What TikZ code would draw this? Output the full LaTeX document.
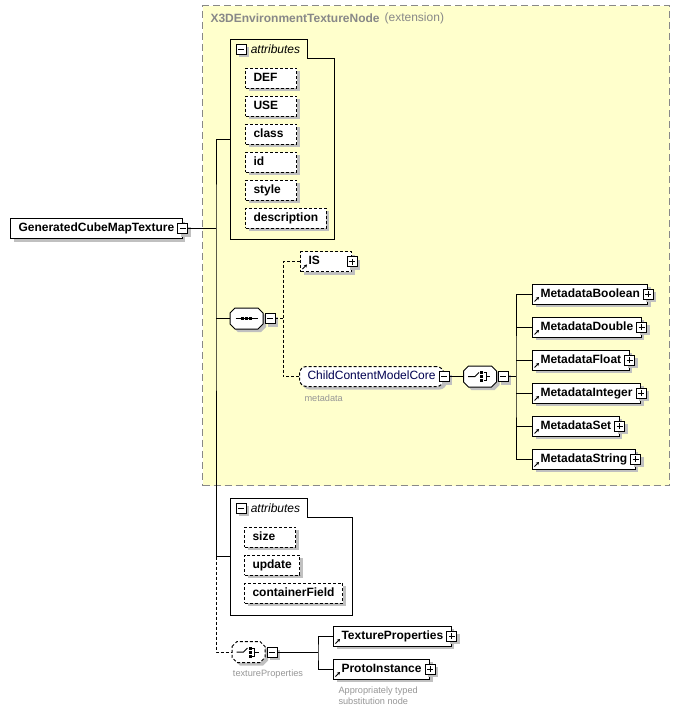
\documentclass[tikz,border=0pt]{standalone}
\usepackage{fontspec}
\setmainfont{Liberation Sans}
\usetikzlibrary{arrows.meta, positioning, shadows}

\definecolor{extfill}{RGB}{255,255,204}
\definecolor{extline}{RGB}{136,136,136}
\definecolor{shade}{RGB}{192,192,192}
\definecolor{notegray}{RGB}{150,150,150}
\definecolor{navy}{RGB}{0,0,80}

% octagon round a (blank) node
\newcommand\octagon[2][]{%
  \draw[fill=white, shade, #1] ([yshift=-5pt]#2.north west) -- ([xshift=5pt]#2.north west)
    -- ([xshift=-5pt]#2.north east) -- ([yshift=-5pt]#2.north east)
    -- ([yshift=5pt]#2.south east) -- ([xshift=-5pt]#2.south east)
    -- ([xshift=5pt]#2.south west) -- ([yshift=5pt]#2.south west) -- cycle;}

\begin{document}
\begin{tikzpicture}[x=1pt, y=-1pt, line width=1pt,
    font=\fontsize{12}{14}\selectfont,
    shade/.style={drop shadow={shadow xshift=3pt, shadow yshift=-3pt, fill=shade, opacity=1}},
    box/.style={rectangle, draw, fill=white, anchor=west, minimum height=20pt,
        inner xsep=8pt, text height=9pt, text depth=3pt, shade},
    elem/.style={box, font=\fontsize{12}{14}\selectfont\bfseries},
    ref/.style={elem, path picture={\draw[solid, line width=0.9pt, -{Stealth[length=3pt,width=3.5pt]}]
        ([shift={(2pt,2.5pt)}]path picture bounding box.south west) -- ++(4.5pt,4.5pt);}},
    dots/.style={dash pattern=on 3pt off 2pt},
    attr/.style={elem, dots},
    short/.style={text width=35pt, align=left},
    minus/.style={rectangle, draw, fill=white, minimum size=10pt, inner sep=0pt, line width=0.8pt, shade,
        path picture={\draw (path picture bounding box.center) +(-3pt,0pt) -- +(3pt,0pt);}},
    plus/.style={rectangle, draw, fill=white, minimum size=10pt, inner sep=0pt, line width=0.8pt, shade,
        path picture={\draw (path picture bounding box.center) +(-3pt,0pt) -- +(3pt,0pt)
            +(0pt,-3pt) -- +(0pt,3pt);}},
    oct/.style={rectangle, minimum width=32pt, minimum height=20pt, inner sep=0pt},
    seqmark/.pic={
        \draw (-11pt,0pt) -- (11pt,0pt);
        \foreach \d in {-4,0,4}
            \fill ([xshift=\d pt]0pt,0pt) +(-1.6pt,-1.6pt) rectangle +(1.6pt,1.6pt);},
    choicemark/.pic={
        \draw (-12pt,0pt) -- (-5pt,0pt) -- (-1pt,4pt);
        \foreach \d in {-4,0,4}
            \fill ([yshift=\d pt]0pt,0pt) +(0pt,-1.5pt) rectangle +(3pt,1.5pt);
        \draw (3.5pt,4pt) -- (6pt,4pt) -- (6pt,-4pt) -- (3.5pt,-4pt) (6pt,0pt) -- (10pt,0pt);},
    group/.style={box, rounded corners=7pt, dots, text=navy},
    note/.style={font=\fontsize{9.2}{11}\selectfont, text=notegray, inner sep=1pt},
    title/.style={font=\fontsize{12}{14}\selectfont\bfseries, text=extline, inner sep=1pt}
  ]
    \useasboundingbox (0,0) rectangle (679,715);

    % extension group
    \node[draw=extline, fill=extfill, dash pattern=on 7pt off 4pt, line width=1.3pt,
        anchor=north west, minimum width=467pt, minimum height=480pt] (ext) at (202,5) {};
    \node[title, anchor=west] (extname) at (209,18) {X3DEnvironmentTextureNode};
    \node[title, font=\fontsize{12}{14}\selectfont, right=2pt of extname] (extnote) {(extension)};

    % root element
    \node[elem] (gcmt) at (10,228.5) {GeneratedCubeMapTexture};
    \node[minus] (gcmtm) at (gcmt.east) {};

    % inherited attributes
    \node[anchor=north west, minimum width=103pt, minimum height=199pt, inner sep=0pt] (attrA) at (230,39) {};
    \draw (attrA.north west) -| ([shift={(77pt,-19pt)}]attrA.north west) -| (attrA.south east) -| (attrA.north west);
    \node[minus, anchor=west] (attrAm) at (235.5,49) {};
    \node[anchor=west, font=\fontsize{12}{14}\selectfont\itshape, inner sep=1pt, right=3pt of attrAm] (attrAl) {attributes};
    \foreach \n [count=\i] in {DEF,USE,class,id,style}
        \node[attr, short] (a\i) at (245,{50+28*\i}) {\n};
    \node[attr] (a6) at (245,218) {description};

    % sequence
    \node[oct] (seq) at (246.5,318.5) {};
    \octagon{seq}
    \pic at (seq) {seqmark};
    \node[minus, right=1.5pt of seq] (seqm) {};
    \coordinate (seqj) at (283,318.5);
    \node[ref, short, dots] (is) at (300,261.5) {IS};
    \node[plus] (ism) at (is.east) {};
    \node[group] (ccmc) at (299,376.5) {ChildContentModelCore};
    \node[minus] (ccmcm) at (ccmc.east) {};
    \node[note, anchor=west] (ccmcnote) at (303,398.5) {metadata};

    % metadata choice
    \node[oct] (mdch) at (480,376.5) {};
    \octagon{mdch}
    \pic at (mdch) {choicemark};
    \node[minus, right=1.5pt of mdch] (mdchm) {};
    \coordinate (mdj) at (516,376.5);
    \foreach \n [count=\i] in {MetadataBoolean,MetadataDouble,MetadataFloat,MetadataInteger,MetadataSet,MetadataString}
    {
        \node[ref] (md\i) at (532,{261+33*\i}) {\n};
        \node[plus] (md\i p) at (md\i.east) {};
    }

    % own attributes
    \node[anchor=north west, minimum width=121pt, minimum height=116pt, inner sep=0pt] (attrB) at (230,498) {};
    \draw (attrB.north west) -| ([shift={(77pt,-19pt)}]attrB.north west) -| (attrB.south east) -| (attrB.north west);
    \node[minus, anchor=west] (attrBm) at (235.5,508) {};
    \node[anchor=west, font=\fontsize{12}{14}\selectfont\itshape, inner sep=1pt, right=3pt of attrBm] (attrBl) {attributes};
    \node[attr, short] (b1) at (244,537) {size};
    \node[attr] (b2) at (244,565) {update};
    \node[attr] (b3) at (244,593) {containerField};

    % textureProperties choice
    \node[oct] (tpch) at (248.5,652) {};
    \octagon[dots]{tpch}
    \pic at (tpch) {choicemark};
    \node[minus, right=1.5pt of tpch] (tpchm) {};
    \node[note] (tpnote) at (268,674) {textureProperties};
    \coordinate (tpj) at (318,652);
    \node[ref] (tp1) at (333,636) {TextureProperties};
    \node[plus] (tp1p) at (tp1.east) {};
    \node[ref] (tp2) at (333,669) {ProtoInstance};
    \node[plus] (tp2p) at (tp2.east) {};
    \node[note, anchor=north west, align=left] (tpnote2) at (337,685) {Appropriately typed\\substitution node};

    % connections
    \coordinate (trunk) at (216,228.5);
    \draw (gcmtm) -- (trunk);
    \draw (attrA.west) -| (trunk) |- (attrB.west);
    \draw (trunk |- seq.west) -- (seq.west);
    \draw[dots] (trunk |- attrB.west) |- (tpch.west);

    \draw[dots] (seqm) -- (seqj);
    \draw[dots] (is.west) -| (seqj) |- (ccmc.west);
    \draw (ccmcm) -- (mdch);
    \draw (mdchm) -- (mdj);
    \draw (md1.west) -| (mdj) |- (md6.west);
    \foreach \i in {2,...,5}
        \draw (mdj |- md\i.west) -- (md\i.west);

    \draw (tpchm) -- (tpj);
    \draw (tp1.west) -| (tpj) |- (tp2.west);
\end{tikzpicture}
\end{document}
